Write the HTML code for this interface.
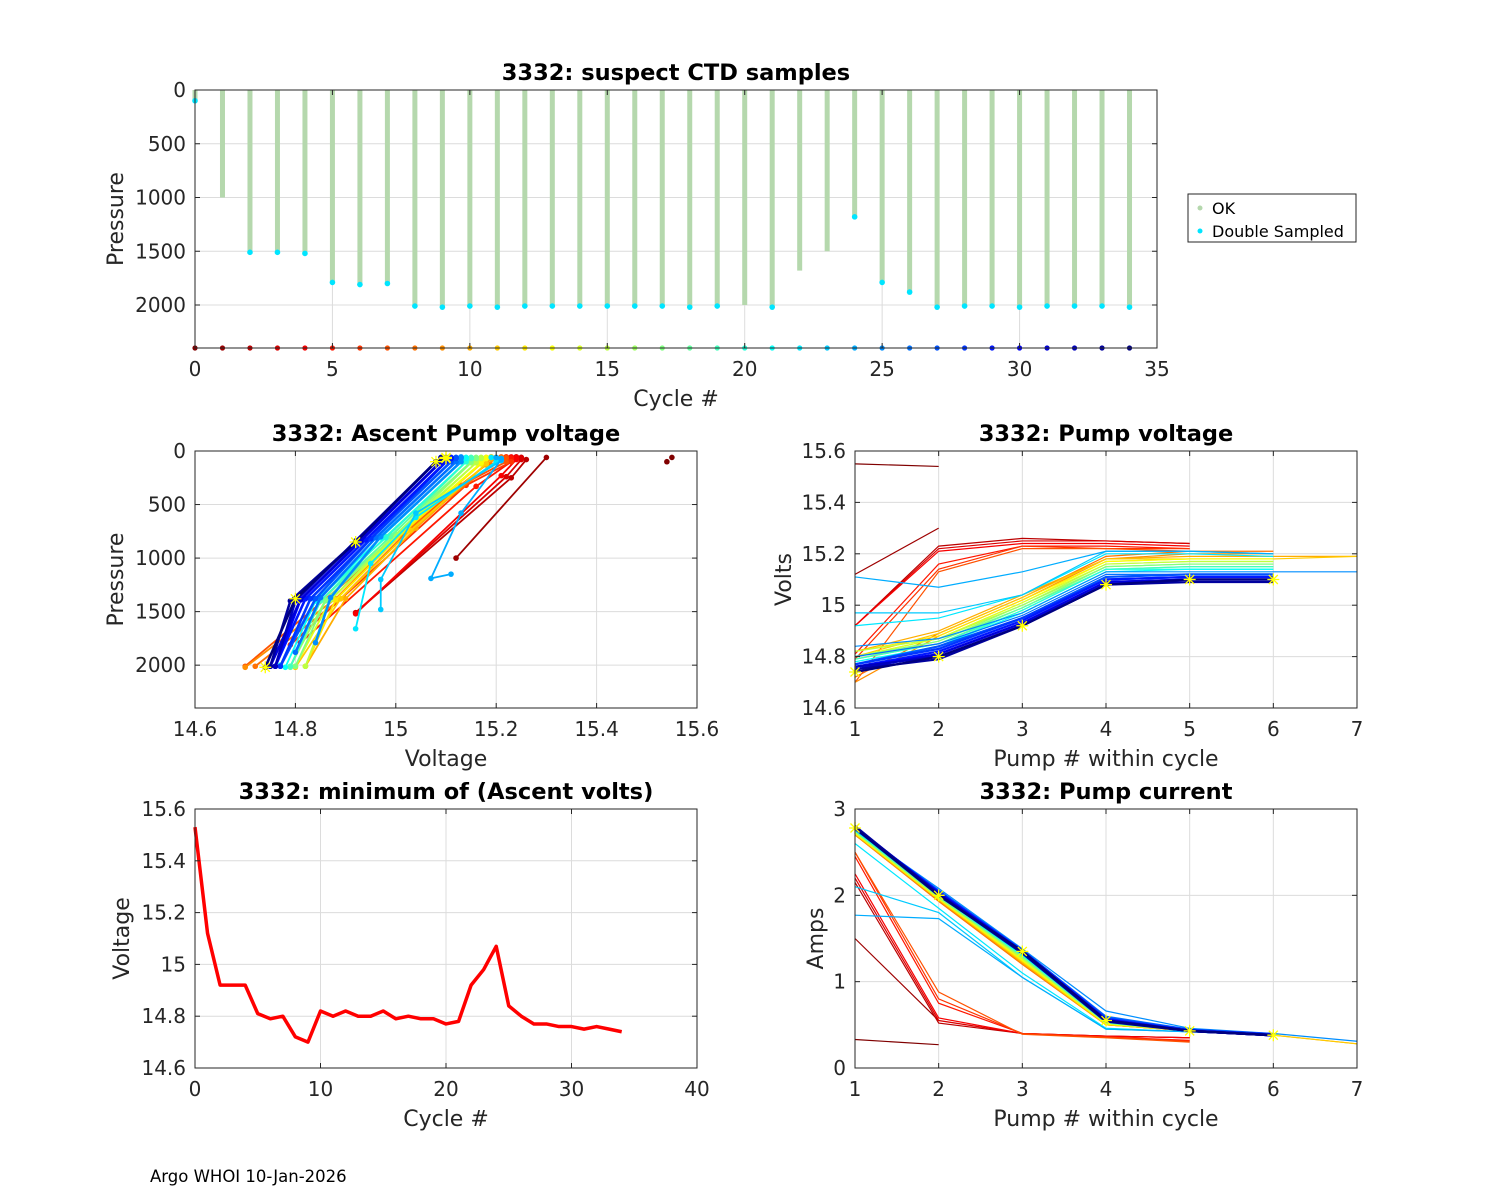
<!DOCTYPE html>
<html><head><meta charset="utf-8"><title>3332 pump diagnostics</title>
<style>body{margin:0;background:#fff}svg{display:block;font-family:"DejaVu Sans","Liberation Sans",sans-serif}</style>
</head><body>
<svg id="fig" width="1500" height="1200" viewBox="0 0 1500 1200" xmlns="http://www.w3.org/2000/svg">
<rect width="1500" height="1200" fill="#fff"/>
<text x="150" y="1182" font-size="16.5" fill="#000">Argo WHOI 10-Jan-2026</text>
</svg>
<script>
// ---- data ----
const cycles = [0,1,2,3,4,5,6,7,8,9,10,11,12,13,14,15,16,17,18,19,20,21,22,23,24,25,26,27,28,29,30,31,32,33,34];
const maxPressure = [100,1000,1510,1510,1520,1790,1810,1800,2010,2020,2010,2020,2010,2010,2010,2010,2010,2010,2020,2010,2000,2020,1680,1500,1180,1790,1880,2020,2010,2010,2020,2010,2010,2010,2020];
const doubleSampled = [1,0,1,1,1,1,1,1,1,1,1,1,1,1,1,1,1,1,1,1,0,1,0,0,1,1,1,1,1,1,1,1,1,1,1];
const minVolts = [15.53,15.12,14.92,14.92,14.92,14.81,14.79,14.80,14.72,14.70,14.82,14.80,14.82,14.80,14.80,14.82,14.79,14.80,14.79,14.79,14.77,14.78,14.92,14.98,15.07,14.84,14.80,14.77,14.77,14.76,14.76,14.75,14.76,14.75,14.74];
const pumpVolts = [
 [15.55,15.54],
 [15.12,15.30],
 [14.92,15.23,15.26,15.25,15.24],
 [14.92,15.22,15.25,15.25,15.24],
 [14.92,15.21,15.24,15.24,15.23],
 [14.81,15.16,15.23,15.23,15.22],
 [14.79,15.14,15.23,15.22,15.22],
 [14.70,15.13,15.22,15.22,15.21],
 [14.72,14.89,15.03,15.19,15.21,15.21],
 [14.70,14.88,15.02,15.18,15.20,15.20],
 [14.82,14.90,15.04,15.18,15.19,15.19,15.19],
 [14.80,14.89,15.03,15.18,15.18,15.18,15.19],
 [14.82,14.88,15.02,15.17,15.18,15.18],
 [14.80,14.87,15.01,15.17,15.18,15.18],
 [14.80,14.87,15.01,15.16,15.17,15.17],
 [14.82,14.87,15.00,15.16,15.17,15.17],
 [14.79,14.86,15.00,15.15,15.16,15.16],
 [14.80,14.86,14.99,15.15,15.16,15.16],
 [14.79,14.85,14.99,15.14,15.15,15.15],
 [14.79,14.85,14.98,15.14,15.15,15.15],
 [14.77,14.84,14.98,15.14,15.14,15.14],
 [14.78,14.84,14.97,15.13,15.14,15.14],
 [14.92,14.95,15.04,15.20,15.20,15.19],
 [14.97,14.97,15.04,15.21,15.21,15.20],
 [15.11,15.07,15.13,15.21,15.21,15.20],
 [14.84,14.87,14.97,15.13,15.13,15.13,15.13],
 [14.80,14.85,14.96,15.12,15.12,15.12],
 [14.77,14.84,14.95,15.11,15.12,15.12],
 [14.77,14.83,14.95,15.10,15.11,15.11],
 [14.76,14.82,14.94,15.10,15.11,15.11],
 [14.76,14.81,14.93,15.09,15.10,15.10],
 [14.75,14.81,14.93,15.09,15.10,15.10],
 [14.76,14.80,14.92,15.08,15.10,15.10],
 [14.75,14.79,14.92,15.08,15.09,15.09],
 [14.74,14.80,14.92,15.08,15.10,15.10]
];
const pumpPressure = [
 [60,100],
 [1000,60],
 [1510,250,80,60,55],
 [1510,240,80,60,55],
 [1520,230,80,60,55],
 [1790,330,100,65,55],
 [1810,320,100,65,55],
 [2010,320,100,65,55],
 [2010,1380,720,130,70,60],
 [2020,1380,720,130,70,60],
 [2010,1380,720,120,70,60,55],
 [2020,1380,740,120,70,60,55],
 [2010,1390,740,120,70,60],
 [2010,1390,760,110,70,60],
 [2010,1390,760,110,70,60],
 [2010,1390,780,110,70,60],
 [2010,1390,780,110,70,60],
 [2010,1400,790,100,70,60],
 [2020,1400,800,100,70,60],
 [2010,1400,800,100,70,60],
 [2000,1400,810,100,70,60],
 [2020,1400,810,100,70,60],
 [1660,1050,620,100,70,60],
 [1480,1200,580,90,70,60],
 [1150,1190,580,80,70,60],
 [1790,1370,800,100,70,60,55],
 [1880,1370,810,100,70,60],
 [2010,1380,820,100,70,60],
 [2010,1380,820,100,70,60],
 [2010,1380,830,100,70,60],
 [2010,1390,830,100,70,60],
 [2010,1390,840,100,70,60],
 [2010,1400,840,100,70,60],
 [2010,1400,850,100,70,60],
 [2020,1380,850,100,70,60]
];
const pumpAmps = [
 [0.33,0.27],
 [1.50,0.55],
 [2.15,0.52,0.40,0.37,0.35],
 [2.20,0.55,0.40,0.37,0.35],
 [2.25,0.58,0.40,0.37,0.35],
 [2.45,0.75,0.40,0.36,0.32],
 [2.50,0.80,0.40,0.36,0.31],
 [2.50,0.88,0.39,0.35,0.30],
 [2.70,1.93,1.20,0.50,0.43,0.38],
 [2.70,1.94,1.21,0.50,0.43,0.38],
 [2.71,1.95,1.22,0.50,0.43,0.38,0.28],
 [2.71,1.95,1.23,0.50,0.43,0.38,0.28],
 [2.72,1.96,1.24,0.51,0.43,0.38],
 [2.72,1.96,1.25,0.51,0.43,0.38],
 [2.73,1.97,1.26,0.52,0.43,0.38],
 [2.73,1.97,1.27,0.52,0.43,0.38],
 [2.74,1.98,1.28,0.52,0.43,0.38],
 [2.74,1.98,1.29,0.52,0.43,0.38],
 [2.75,1.99,1.30,0.53,0.43,0.38],
 [2.75,1.99,1.30,0.53,0.43,0.38],
 [2.75,2.00,1.31,0.53,0.43,0.38],
 [2.76,2.00,1.31,0.53,0.43,0.38],
 [2.60,1.85,1.10,0.46,0.42,0.38],
 [2.10,1.80,1.05,0.45,0.42,0.38],
 [1.77,1.73,1.05,0.45,0.42,0.38],
 [2.76,2.08,1.38,0.66,0.46,0.40,0.31],
 [2.77,2.06,1.37,0.60,0.45,0.39],
 [2.77,2.05,1.36,0.58,0.44,0.39],
 [2.78,2.04,1.36,0.57,0.44,0.39],
 [2.78,2.03,1.35,0.56,0.43,0.38],
 [2.79,2.03,1.35,0.56,0.43,0.38],
 [2.79,2.02,1.34,0.55,0.43,0.38],
 [2.79,2.01,1.34,0.55,0.43,0.38],
 [2.80,2.01,1.33,0.54,0.43,0.38],
 [2.78,2.00,1.35,0.55,0.43,0.38]
];
const topXTicks = [0,5,10,15,20,25,30,35];
const pressureTicks = [0,500,1000,1500,2000];
const voltXTicks = [14.6,14.8,15,15.2,15.4,15.6];
const voltTickLabels = ["14.6","14.8","15","15.2","15.4","15.6"];
const pumpTicks = [1,2,3,4,5,6,7];
const cycleTicks = [0,10,20,30,40];
const ampTicks = [0,1,2,3];

// ---- helpers ----
const NS = "http://www.w3.org/2000/svg";
const svg = document.getElementById('fig');
function mk(tag, attrs, parent){const e=document.createElementNS(NS,tag);for(const k in attrs)e.setAttribute(k,attrs[k]);(parent||svg).appendChild(e);return e;}
function jet(t){
  function f(x){return Math.max(0,Math.min(1,x));}
  const r=f(1.5-Math.abs(4*t-3)), g=f(1.5-Math.abs(4*t-2)), b=f(1.5-Math.abs(4*t-1));
  return 'rgb('+Math.round(r*255)+','+Math.round(g*255)+','+Math.round(b*255)+')';
}
function cycColor(i){return jet(1-i/(cycles.length-1));}

function makeAxes(o){
  const g=mk('g',{});
  
  
  const sx=v=>o.x0+(v-o.xmin)/(o.xmax-o.xmin)*o.w;
  const sy=o.rev? v=>o.y0+(v-o.ymin)/(o.ymax-o.ymin)*o.h : v=>o.y0+o.h-(v-o.ymin)/(o.ymax-o.ymin)*o.h;
  mk('rect',{x:o.x0,y:o.y0,width:o.w,height:o.h,fill:'#fff'},g);
  const grid=mk('g',{stroke:'#dcdcdc','stroke-width':1},g);
  
  
  o.xt.forEach(v=>{mk('line',{x1:sx(v),x2:sx(v),y1:o.y0,y2:o.y0+o.h},grid);});
  o.yt.forEach(v=>{mk('line',{x1:o.x0,x2:o.x0+o.w,y1:sy(v),y2:sy(v)},grid);});
  const plot=mk('g',{},g);
  
  
  const fr=mk('g',{},g);
  return {g,plot,sx,sy,finish:function(){
    mk('rect',{x:o.x0,y:o.y0,width:o.w,height:o.h,fill:'none',stroke:'#262626','stroke-width':1},fr);
    o.xt.forEach((v,i)=>{
      const x=sx(v);
      mk('line',{x1:x,x2:x,y1:o.y0+o.h,y2:o.y0+o.h-5,stroke:'#262626'},fr);
      mk('line',{x1:x,x2:x,y1:o.y0,y2:o.y0+5,stroke:'#262626'},fr);
      const t=mk('text',{x:x,y:o.y0+o.h+28,'font-size':20,'text-anchor':'middle',fill:'#262626'},fr);
      t.textContent=o.xl?o.xl[i]:String(v);
      
      
    });
    o.yt.forEach((v,i)=>{
      const y=sy(v);
      mk('line',{x1:o.x0,x2:o.x0+5,y1:y,y2:y,stroke:'#262626'},fr);
      mk('line',{x1:o.x0+o.w,x2:o.x0+o.w-5,y1:y,y2:y,stroke:'#262626'},fr);
      const t=mk('text',{x:o.x0-9,y:y+7,'font-size':20,'text-anchor':'end',fill:'#262626'},fr);
      t.textContent=o.yl?o.yl[i]:String(v);
      
      
    });
    const tt=mk('text',{x:o.x0+o.w/2,y:o.y0-10,'font-size':22.5,'font-weight':'bold','text-anchor':'middle',fill:'#000'},fr);
    tt.textContent=o.title;
    
    
    const xl=mk('text',{x:o.x0+o.w/2,y:o.y0+o.h+58,'font-size':22,'text-anchor':'middle',fill:'#262626'},fr);
    xl.textContent=o.xlabel;
    
    
    const yx=o.x0-o.ylOff, yy=o.y0+o.h/2;
    const yl=mk('text',{x:yx,y:yy,'font-size':22,'text-anchor':'middle',fill:'#262626',transform:'rotate(-90 '+yx+' '+yy+')'},fr);
    yl.textContent=o.ylabel;
    
    
  }};
}
function star(p,x,y){
  const s=mk('path',{d:'M'+(x-6)+' '+y+'h12M'+x+' '+(y-6)+'v12M'+(x-4.5)+' '+(y-4.5)+'l9 9M'+(x-4.5)+' '+(y+4.5)+'l9 -9',stroke:'#ffff00','stroke-width':1.3,fill:'none'},p);
  
  
}

// ---- top: suspect CTD samples ----
(function(){
  const A=makeAxes({name:'ctd-samples-chart',x0:195,y0:90,w:962,h:258,xmin:0,xmax:35,ymin:0,ymax:2400,rev:true,xt:topXTicks,yt:pressureTicks,title:'3332: suspect CTD samples',xlabel:'Cycle #',ylabel:'Pressure',ylOff:72});
  cycles.forEach((c,i)=>{
    const b=mk('rect',{x:A.sx(c)-2.5,y:A.sy(0),width:5,height:A.sy(maxPressure[i])-A.sy(0),fill:'#b5d8ad'},A.plot);
    
    
    if(doubleSampled[i]){
      const d=mk('circle',{cx:A.sx(c),cy:A.sy(maxPressure[i]),r:2.8,fill:'#00e5ff'},A.plot);
      
      
    }
    const cd=mk('circle',{cx:A.sx(c),cy:A.sy(2400),r:2.6,fill:cycColor(i)},A.plot);
    
    
  });
  A.finish();
  const lg=mk('g',{});
  
  
  mk('rect',{x:1188,y:194,width:168,height:48,fill:'#fff',stroke:'#262626'},lg);
  mk('circle',{cx:1200,cy:208,r:2.5,fill:'#b5d8ad'},lg);
  mk('circle',{cx:1200,cy:231,r:2.5,fill:'#00e5ff'},lg);
  const t1=mk('text',{x:1212,y:214,'font-size':16,fill:'#000'},lg);t1.textContent='OK';
  
  
  const t2=mk('text',{x:1212,y:237,'font-size':16,fill:'#000'},lg);t2.textContent='Double Sampled';
  
  
})();

// ---- middle left: ascent pump voltage ----
(function(){
  const A=makeAxes({name:'ascent-pump-voltage-chart',x0:195,y0:451,w:502,h:257,xmin:14.6,xmax:15.6,ymin:0,ymax:2400,rev:true,xt:voltXTicks,xl:voltTickLabels,yt:pressureTicks,title:'3332: Ascent Pump voltage',xlabel:'Voltage',ylabel:'Pressure',ylOff:72});
  cycles.forEach((c,i)=>{
    const v=pumpVolts[i], p=pumpPressure[i], col=cycColor(i);
    const pts=v.map((vv,k)=>A.sx(vv)+','+A.sy(p[k])).join(' ');
    if(i>0){
      const l=mk('polyline',{points:pts,fill:'none',stroke:col,'stroke-width':i>=25?2.6:1.8},A.plot);
      
      
    }
    v.forEach((vv,k)=>{
      const d=mk('circle',{cx:A.sx(vv),cy:A.sy(p[k]),r:2.8,fill:col},A.plot);
      
      
    });
    if(i===cycles.length-1) v.forEach((vv,k)=>star(A.plot,A.sx(vv),A.sy(p[k])));
  });
  A.finish();
})();

// ---- middle right: pump voltage ----
(function(){
  const A=makeAxes({name:'pump-voltage-chart',x0:855,y0:451,w:502,h:257,xmin:1,xmax:7,ymin:14.6,ymax:15.6,rev:false,xt:pumpTicks,yt:voltXTicks,yl:voltTickLabels,title:'3332: Pump voltage',xlabel:'Pump # within cycle',ylabel:'Volts',ylOff:64});
  cycles.forEach((c,i)=>{
    const pts=pumpVolts[i].map((v,k)=>A.sx(k+1)+','+A.sy(v)).join(' ');
    const l=mk('polyline',{points:pts,fill:'none',stroke:cycColor(i),'stroke-width':i>=27?2.2:1.2},A.plot);
    
    
    if(i===cycles.length-1) pumpVolts[i].forEach((v,k)=>star(A.plot,A.sx(k+1),A.sy(v)));
  });
  A.finish();
})();

// ---- bottom left: minimum ascent volts ----
(function(){
  const A=makeAxes({name:'min-ascent-volts-chart',x0:195,y0:809,w:502,h:259,xmin:0,xmax:40,ymin:14.6,ymax:15.6,rev:false,xt:cycleTicks,yt:voltXTicks,yl:voltTickLabels,title:'3332: minimum of (Ascent volts)',xlabel:'Cycle #',ylabel:'Voltage',ylOff:66});
  const pts=cycles.map((c,i)=>A.sx(c)+','+A.sy(minVolts[i])).join(' ');
  const l=mk('polyline',{points:pts,fill:'none',stroke:'#ff0000','stroke-width':3.5,'stroke-linejoin':'round'},A.plot);
  
  
  A.finish();
})();

// ---- bottom right: pump current ----
(function(){
  const A=makeAxes({name:'pump-current-chart',x0:855,y0:809,w:502,h:259,xmin:1,xmax:7,ymin:0,ymax:3,rev:false,xt:pumpTicks,yt:ampTicks,title:'3332: Pump current',xlabel:'Pump # within cycle',ylabel:'Amps',ylOff:32});
  cycles.forEach((c,i)=>{
    const pts=pumpAmps[i].map((v,k)=>A.sx(k+1)+','+A.sy(v)).join(' ');
    const l=mk('polyline',{points:pts,fill:'none',stroke:cycColor(i),'stroke-width':i>=27?2.6:1.2},A.plot);
    
    
    if(i===cycles.length-1) pumpAmps[i].forEach((v,k)=>star(A.plot,A.sx(k+1),A.sy(v)));
  });
  A.finish();
})();
</script>
</body></html>
